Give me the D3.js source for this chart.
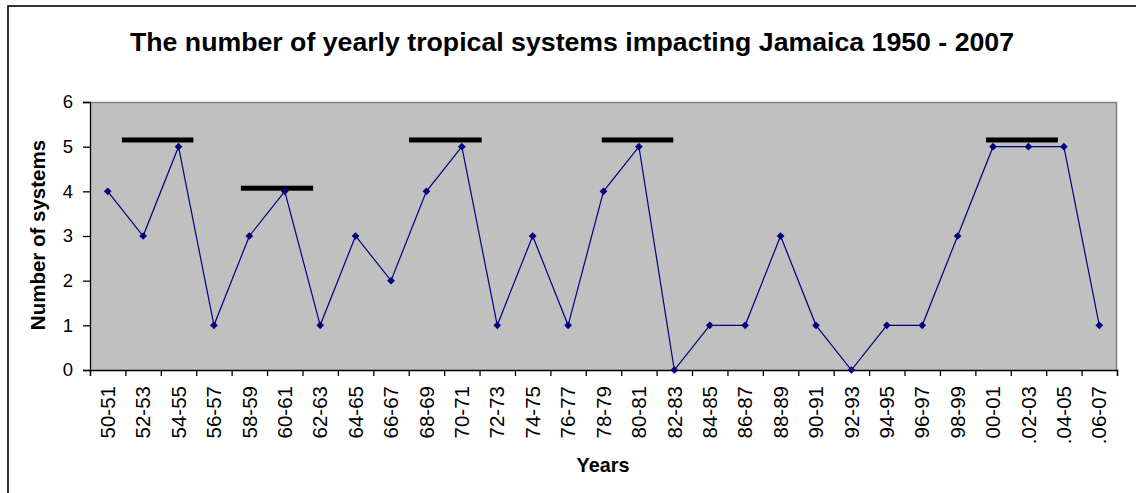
<!DOCTYPE html>
<html>
<head>
<meta charset="utf-8">
<script src="https://cdn.jsdelivr.net/npm/d3@7"></script>
<style>
  html, body { margin: 0; padding: 0; background: #fff; }
  svg { display: block; font-family: Arial, "Liberation Sans", sans-serif; }
</style>
</head>
<body>
<svg id="chart" width="1136" height="493"></svg>
<script>
// Two-year periods, 1950-51 through 2006-07
const periods = ["50-51","52-53","54-55","56-57","58-59","60-61","62-63","64-65","66-67","68-69",
  "70-71","72-73","74-75","76-77","78-79","80-81","82-83","84-85","86-87","88-89",
  "90-91","92-93","94-95","96-97","98-99","00-01",".02-03",".04-05",".06-07"];
// Tropical systems affecting Jamaica in each period
const systems = [4,3,5,1,3,4,1,3,2,4,5,1,3,1,4,5,0,1,1,3,1,0,1,1,3,5,5,5,1];
const yTicks = [0,1,2,3,4,5,6];
// Active spells marked above the series (start / end along the period axis, level)
const spellStart = [0.90, 4.26, 9.01, 14.45, 25.30];
const spellEnd   = [2.92, 6.30, 11.06, 16.47, 27.33];
const spellLevel = [5.15, 4.07, 5.15, 5.15, 5.15];

const svg = d3.select("#chart");
const plotL = 90, plotR = 1117, plotT = 102, plotB = 370;

// outer chart frame (only top and left edges fall inside the page)
svg.append("rect").attr("x", 8).attr("y", 6).attr("width", 1200).attr("height", 600)
  .attr("fill", "none").attr("stroke", "#000").attr("stroke-width", 1.6);

const x = d3.scaleLinear().domain([0, periods.length]).range([plotL, plotR]);
const y = d3.scaleLinear().domain([0, 6]).range([plotB, plotT]);

// plot area
svg.append("rect").attr("x", plotL).attr("y", plotT)
  .attr("width", plotR - plotL).attr("height", plotB - plotT)
  .attr("fill", "#c0c0c0");
svg.append("path")
  .attr("d", `M${plotL},${plotT + 0.5}H${plotR - 0.5}V${plotB}`)
  .attr("fill", "none").attr("stroke", "#808080").attr("stroke-width", 1.5);

// y axis
const yAxis = d3.axisLeft(y).tickValues(yTicks).tickFormat(d3.format("d")).tickSize(7).tickPadding(10);
const gy = svg.append("g").attr("transform", `translate(${plotL},0)`).call(yAxis);
gy.attr("font-size", null).attr("font-family", null);
gy.select(".domain").attr("stroke", "#000").attr("stroke-width", 1.3);
gy.selectAll(".tick line").attr("stroke", "#000").attr("stroke-width", 1.3);
gy.selectAll(".tick text").attr("font-size", 18.5).attr("fill", "#000");

// x axis: ticks at period boundaries, labels at period centres
const bounds = d3.range(periods.length + 1);
const xAxis = d3.axisBottom(x).tickValues(bounds).tickSize(6).tickFormat("");
const gx = svg.append("g").attr("transform", `translate(0,${plotB})`).call(xAxis);
gx.select(".domain").attr("stroke", "#000").attr("stroke-width", 1.3);
gx.selectAll(".tick line").attr("stroke", "#000").attr("stroke-width", 1.3);

svg.append("g").selectAll("text").data(periods).join("text")
  .attr("transform", (d, i) => `translate(${x(i + 0.5)},386) rotate(-90)`)
  .attr("text-anchor", "end")
  .attr("dy", "0.35em")
  .attr("font-size", 20.5)
  .attr("fill", "#000")
  .text(d => d);

// spell markers
svg.append("g").selectAll("rect").data(spellLevel).join("rect")
  .attr("x", (d, i) => x(spellStart[i]))
  .attr("width", (d, i) => x(spellEnd[i]) - x(spellStart[i]))
  .attr("y", d => y(d) - 2.5)
  .attr("height", 5)
  .attr("fill", "#000");

// series line
const line = d3.line().x((d, i) => x(i + 0.5)).y(d => y(d));
svg.append("path").datum(systems)
  .attr("d", line)
  .attr("fill", "none").attr("stroke", "#000080").attr("stroke-width", 1.2);

// diamond markers
const diamond = d3.symbol().type(d3.symbolDiamond2).size(38);
svg.append("g").selectAll("path").data(systems).join("path")
  .attr("transform", (d, i) => `translate(${x(i + 0.5)},${y(d)})`)
  .attr("d", diamond)
  .attr("fill", "#000080");

// titles
svg.append("text").attr("x", 572).attr("y", 51)
  .attr("text-anchor", "middle").attr("font-weight", "bold").attr("font-size", 26.7)
  .attr("fill", "#000")
  .text("The number of yearly tropical systems impacting Jamaica 1950 - 2007");

svg.append("text").attr("x", 603).attr("y", 472)
  .attr("text-anchor", "middle").attr("font-weight", "bold").attr("font-size", 19.8)
  .attr("fill", "#000")
  .text("Years");

svg.append("text")
  .attr("transform", `translate(45,${(plotT + plotB) / 2 - 1}) rotate(-90)`)
  .attr("text-anchor", "middle").attr("font-weight", "bold").attr("font-size", 20.5)
  .attr("fill", "#000")
  .text("Number of systems");
</script>
</body>
</html>
